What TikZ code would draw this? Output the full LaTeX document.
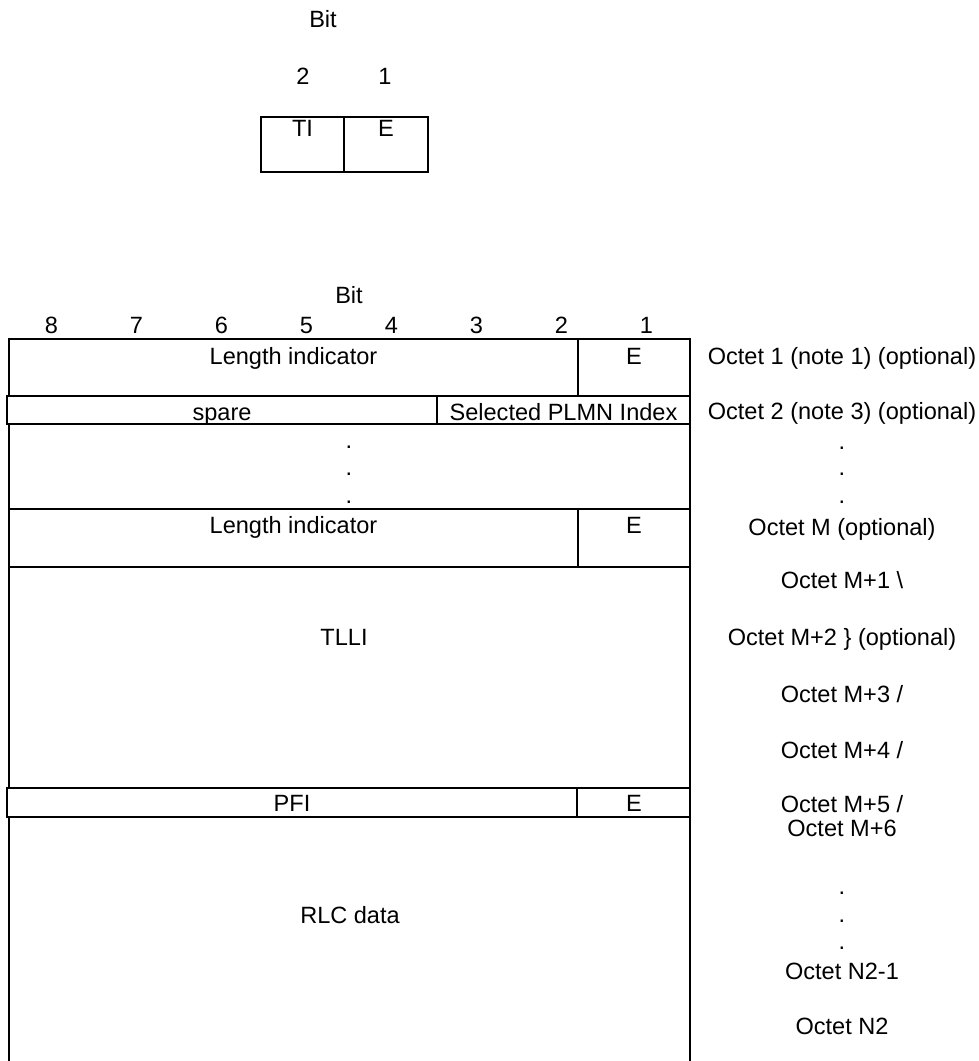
\documentclass[tikz,border=0pt]{standalone}
\usepackage{fontspec}
\setmainfont{Liberation Sans}
\usetikzlibrary{positioning}
\tikzset{
    field text/.style={inner sep=0pt, anchor=base, font=\fontsize{13.4}{16}\selectfont},
    octet label/.style={field text},
    table line/.style={line width=0.85pt, black}
}

\begin{document}
\begin{tikzpicture}[x=0.2mm, y=-0.2mm]
\useasboundingbox (0,0) rectangle (979,1061);

% small header box
\node[field text] (bittop) at (323,28) {Bit};
\node[field text] (bittwo) at (303,85) {2};
\node[field text] (bitone) at (385,85) {1};
\draw[table line] (261,117) rectangle (428,172);
\draw[table line] (344,117) -- (344,172);
\node[field text] (ti) at (302.5,137) {TI};
\node[field text] (etop) at (386,137) {E};

% bit numbers of the octet
\node[field text] (bitmain) at (349,303) {Bit};
\foreach \b [count=\i] in {8,...,1}
    \node[field text] (bit\b) at ({9+42.5+85*(\i-1)},333) {\b};

% rows of the table
\draw[table line] (9,339) rectangle (690,396);
\draw[table line] (578,339) -- (578,396);
\draw[table line] (7,396) rectangle (690,424);
\draw[table line] (437,396) -- (437,424);
\draw[table line] (9,424) -- (9,509) -- (690,509) -- (690,424);
\draw[table line] (9,509) rectangle (690,567);
\draw[table line] (578,509) -- (578,567);
\draw[table line] (9,567) -- (9,788);
\draw[table line] (690,567) -- (690,788);
\draw[table line] (7,788) rectangle (690,817);
\draw[table line] (577,788) -- (577,817);
\draw[table line] (9,817) -- (9,1061);
\draw[table line] (690,817) -- (690,1061);

% field names
\node[field text] (lione) at (293.5,364) {Length indicator};
\node[field text] (eone) at (634,364) {E};
\node[field text] (spare) at (222,420) {spare};
\node[field text] (plmn) at (563.5,420) {Selected PLMN Index};
\node[field text] (dota) at (349,448) {.};
\node[field text] (dotb) at (349,475) {.};
\node[field text] (dotc) at (349,503) {.};
\node[field text] (lim) at (293.5,533) {Length indicator};
\node[field text] (em) at (634,533) {E};
\node[field text] (tlli) at (344,645) {TLLI};
\node[field text] (pfi) at (292,811) {PFI};
\node[field text] (epfi) at (634,811) {E};
\node[field text] (rlc) at (350,923) {RLC data};

% octet numbers
\node[octet label] (octone) at (842,364) {Octet 1 (note 1) (optional)};
\node[octet label] (octtwo) at (842,419) {Octet 2 (note 3) (optional)};
\node[octet label] (odota) at (842,449) {.};
\node[octet label] (odotb) at (842,475) {.};
\node[octet label] (odotc) at (842,503) {.};
\node[octet label] (octm) at (842,535) {Octet M (optional)};
\node[octet label] (octmone) at (842,588) {Octet M+1 \textbackslash};
\node[octet label] (octmtwo) at (842,645) {Octet M+2 \} (optional)};
\node[octet label] (octmthree) at (842,702) {Octet M+3 /};
\node[octet label] (octmfour) at (842,758) {Octet M+4 /};
\node[octet label] (octmfive) at (842,812) {Octet M+5 /};
\node[octet label] (octmsix) at (842,836) {Octet M+6};
\node[octet label] (odotd) at (842,894) {.};
\node[octet label] (odote) at (842,922) {.};
\node[octet label] (odotf) at (842,949) {.};
\node[octet label] (octntwoone) at (842,979) {Octet N2-1};
\node[octet label] (octntwo) at (842,1034) {Octet N2};
\end{tikzpicture}
\end{document}
